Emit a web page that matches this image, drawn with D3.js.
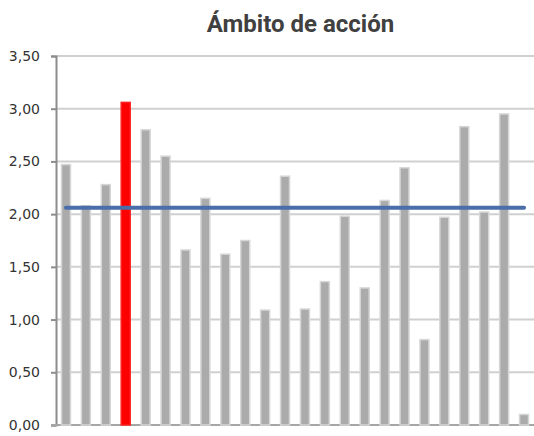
<!DOCTYPE html>
<html><head><meta charset="utf-8">
<script src="https://cdn.jsdelivr.net/npm/d3@7/dist/d3.min.js"></script>
<style>body{margin:0;background:#fff}</style>
</head><body>
<svg id="c" width="534" height="436"></svg>
<script>
const title = "Ámbito de acción";
const categories = d3.range(1, 25).map(String);
const values = [2.47, 2.08, 2.28, 3.06, 2.80, 2.55, 1.66, 2.15, 1.62, 1.75, 1.09, 2.36,
                1.10, 1.36, 1.98, 1.30, 2.13, 2.44, 0.81, 1.97, 2.83, 2.02, 2.95, 0.10];
const highlightIndex = [3];
const lineValues = categories.map(() => 2.06);
const yTicks = [0, 0.5, 1, 1.5, 2, 2.5, 3, 3.5];

const svg = d3.select("#c");
const x = d3.scaleBand().domain(categories).range([56, 534]).paddingInner(0.55).paddingOuter(0.275);
const y = d3.scaleLinear().domain([0, 3.5]).range([425, 56]);
const fmt = v => d3.format(".2f")(v).replace(".", ",");

// gridlines
svg.append("g").selectAll("line").data(yTicks.filter(t => t > 0)).join("line")
  .attr("x1", 56).attr("x2", 534).attr("y1", d => y(d)).attr("y2", d => y(d))
  .attr("stroke", "#d0d0d0").attr("stroke-width", 2);

// y axis
const ya = svg.append("g").attr("transform", "translate(56,0)")
  .call(d3.axisLeft(y).tickValues(yTicks).tickFormat(fmt).tickSize(5).tickPadding(11));
ya.select(".domain").attr("stroke", "#8c8c8c").attr("stroke-width", 2);
ya.selectAll(".tick line").attr("stroke", "#8c8c8c").attr("stroke-width", 2);
ya.selectAll("text").attr("font-family", "DejaVu Sans").attr("font-size", 14).attr("fill", "#333");

// baseline
svg.append("line").attr("x1", 51).attr("x2", 534).attr("y1", y(0)).attr("y2", y(0))
  .attr("stroke", "#a6a6a6").attr("stroke-width", 2);

// bars
svg.append("g").selectAll("rect").data(values).join("rect")
  .attr("x", (d, i) => x(categories[i]))
  .attr("width", x.bandwidth())
  .attr("y", d => y(d))
  .attr("height", d => y(0) - y(d))
  .attr("fill", (d, i) => highlightIndex.includes(i) ? "#ff0000" : "#ababab")
  .attr("stroke", (d, i) => highlightIndex.includes(i) ? "#ff2020" : "#d6d6d6")
  .attr("stroke-width", 1.5);

// line
const line = d3.line().x((d, i) => x(categories[i]) + x.bandwidth() / 2).y(d => y(d));
svg.append("path").datum(lineValues).attr("d", line)
  .attr("fill", "none").attr("stroke", "#4a6ea9").attr("stroke-width", 4).attr("stroke-linecap", "round");

// title
svg.append("text").attr("x", 300.5).attr("y", 32).attr("text-anchor", "middle")
  .attr("font-family", "Roboto").attr("font-weight", "bold").attr("font-size", 24)
  .attr("fill", "#404040").text(title);
</script>
</body></html>
